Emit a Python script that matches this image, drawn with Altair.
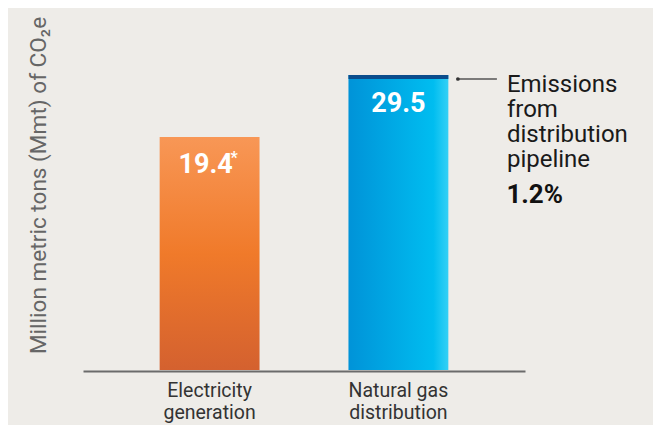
import altair as alt
import pandas as pd

categories = ["Electricity generation", "Natural gas distribution"]
axis_lines = [["Electricity", "generation"], ["Natural gas", "distribution"]]
values = [19.4, 29.5]
value_labels = ["19.4", "29.5"]
notes = ["*", ""]
annotation_lines = ["Emissions", "from", "distribution", "pipeline"]
annotation_value = "1.2%"
y_title = "Million metric tons (Mmt) of CO\u2082e"

df = pd.DataFrame({"category": categories, "value": values,
                   "label": value_labels, "note": notes})

FONT = "Roboto"
BG = "#eeece8"

label_expr = " : ".join(
    [f"datum.label == '{c}' ? {l!r}" for c, l in zip(categories[:-1], axis_lines[:-1])]
    + [repr(axis_lines[-1])]
)

x = alt.X("category:N", sort=categories,
          scale=alt.Scale(paddingInner=0.471, paddingOuter=0.406),
          axis=alt.Axis(title=None, labelAngle=0, labelFont=FONT, labelFontSize=19.5,
                        labelColor="#333333", labelPadding=10, labelLineHeight=22.3,
                        ticks=False, domainColor="#6b6b6b", domainWidth=2, offset=1,
                        labelExpr=label_expr))
y = alt.Y("value:Q",
          scale=alt.Scale(type="pow", exponent=0.563, domain=[0, 29.5], nice=False),
          axis=alt.Axis(title=y_title, labels=False, ticks=False, domain=False, grid=False,
                        titleFont=FONT, titleFontSize=22.6, titleFontWeight="normal",
                        titleColor="#666666", titleX=-38, titleY=110, titleAngle=270,
                        titleAlign="center", titleBaseline="alphabetic"))

base = alt.Chart(df)
elec = base.transform_filter(alt.datum.category == categories[0])
gas = base.transform_filter(alt.datum.category == categories[1])

orange = alt.Gradient(gradient="linear", x1=0, y1=0, x2=0, y2=1,
                      stops=[alt.GradientStop(color="#f89756", offset=0),
                             alt.GradientStop(color="#f07a2a", offset=0.5),
                             alt.GradientStop(color="#d4612f", offset=1)])
blue = alt.Gradient(gradient="linear", x1=0, y1=0, x2=1, y2=0,
                    stops=[alt.GradientStop(color="#0093d8", offset=0),
                           alt.GradientStop(color="#00bdf0", offset=0.85),
                           alt.GradientStop(color="#35d0f5", offset=1)])

bar_e = elec.mark_bar(color=orange).encode(x=x, y=y)
bar_g = gas.mark_bar(color=blue).encode(x=x, y=y)
cap = gas.mark_bar(color="#0b4d8c", y2Offset=4).encode(
    x=x, y="value:Q", y2="value:Q")

txt_style = dict(font=FONT, fontSize=27, fontWeight="bold", color="white",
                 baseline="alphabetic")
lab_e = elec.mark_text(align="center", dx=-4, dy=36, **txt_style).encode(
    x=x, y="value:Q", text="label:N")
note_e = elec.mark_text(align="left", dx=21, dy=26, font=FONT, fontSize=16,
                        fontWeight="bold", color="white", baseline="alphabetic").encode(
    x=x, y="value:Q", text="note:N")
lab_g = gas.mark_text(align="center", dx=0, dy=37, **txt_style).encode(
    x=x, y="value:Q", text="label:N")

dot = gas.mark_point(filled=True, size=14, color="#333333", opacity=1,
                     xOffset=59.5, yOffset=4).encode(x=x, y="value:Q")
leader = gas.mark_rule(color="#555555", strokeWidth=1.5, xOffset=59.5,
                       x2Offset=98.5, yOffset=4).encode(x=x, x2="category:N", y="value:Q")
ann = gas.mark_text(text=annotation_lines, align="left", baseline="alphabetic",
                    dx=108.5, dy=16.7, font=FONT, fontSize=24, lineHeight=25,
                    color="#1a1a1a").encode(x=x, y="value:Q")
ann_v = gas.mark_text(text=annotation_value, align="left", baseline="alphabetic",
                      dx=108, dy=127.7, font=FONT, fontSize=26, fontWeight="bold",
                      color="#111111").encode(x=x, y="value:Q")

chart = alt.layer(bar_e, bar_g, cap, lab_e, note_e, lab_g, leader, dot, ann, ann_v).properties(
    width=442, height=295,
    padding={"left": 75, "top": 67, "right": 128, "bottom": 55},
    autosize="none",
    background=BG,
).configure_view(stroke=None)

chart.save("out.html", embed_options={"renderer": "svg", "actions": False})
